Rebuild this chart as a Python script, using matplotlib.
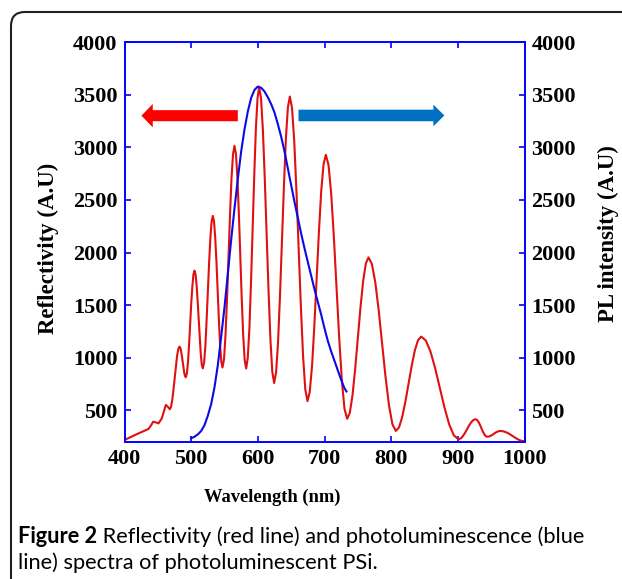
import matplotlib
matplotlib.use("Agg")
import matplotlib.pyplot as plt
from matplotlib.patches import FancyArrow, FancyBboxPatch
from matplotlib.transforms import IdentityTransform

# ---------------- data ----------------
wavelength_refl = [
    400, 409, 418, 427, 436, 440, 443, 447, 451, 456, 459, 462, 465, 468,
    469.8, 471.6, 473.4, 475.3, 477.1, 478.9, 480.7, 482.5,
    483.7, 484.9, 486.1, 487.3, 488.4, 489.6, 490.8, 492,
    493.6, 495.3, 496.9, 498.5, 500.1, 501.8, 503.4, 505,
    506.6, 508.1, 509.7, 511.3, 512.8, 514.4, 515.9, 517.5,
    519.4, 521.3, 523.1, 525, 526.9, 528.8, 530.6, 532.5,
    534.3, 536.1, 538, 539.8, 541.6, 543.4, 545.2, 547,
    549.3, 551.5, 553.8, 556, 558.3, 560.5, 562.8, 565,
    567.2, 569.4, 571.6, 573.8, 575.9, 578.1, 580.3, 582.5,
    584.9, 587.4, 589.8, 592.3, 594.7, 597.1, 599.6, 602,
    604.8, 607.6, 610.4, 613.3, 616.1, 618.9, 621.7, 624.5,
    627.4, 630.4, 633.3, 636.3, 639.2, 642.1, 645.1, 648,
    651.3, 654.6, 657.9, 661.3, 664.6, 667.9, 671.2, 674.5,
    677.9, 681.4, 684.8, 688.3, 691.7, 695.1, 698.6, 702,
    706, 710, 714, 718, 722, 726, 730, 734,
    738, 742, 746, 750, 754, 758, 762, 766,
    771.1, 776.3, 781.4, 786.5, 791.6, 796.8, 801.9, 807,
    811.8, 816.5, 821.3, 826, 830.8, 835.5, 840.3, 845,
    852, 859, 866, 873, 880, 887, 894, 901,
    904.2, 907.4, 910.6, 913.8, 916.9, 920.1, 923.3, 926.5,
    928.7, 930.9, 933.1, 935.3, 937.4, 939.6, 941.8, 944,
    946.5, 949, 951.5, 954, 956.5, 959, 961.5, 964,
    968.5, 973, 977.5, 982, 986.5, 991, 995.5, 1000]
reflectivity = [
    219, 246, 273, 298, 324, 360, 393, 386, 377, 425, 490, 552, 535, 511,
    534, 598, 695, 809, 922, 1019, 1083, 1106,
    1095, 1064, 1016, 961, 905, 858, 826, 815,
    854, 963, 1128, 1322, 1515, 1680, 1790, 1828,
    1793, 1693, 1541, 1364, 1187, 1036, 935, 900,
    955, 1111, 1347, 1624, 1901, 2137, 2293, 2348,
    2293, 2138, 1903, 1628, 1353, 1118, 963, 908,
    988, 1216, 1559, 1961, 2363, 2707, 2934, 3014,
    2934, 2705, 2360, 1956, 1552, 1207, 978, 898,
    1000, 1288, 1724, 2235, 2746, 3182, 3470, 3572,
    3465, 3161, 2703, 2166, 1629, 1171, 867, 760,
    863, 1157, 1601, 2121, 2641, 3085, 3379, 3482,
    3372, 3060, 2588, 2035, 1482, 1011, 698, 588,
    677, 930, 1311, 1758, 2205, 2586, 2839, 2928,
    2833, 2562, 2153, 1674, 1195, 786, 515, 420,
    478, 644, 894, 1187, 1480, 1730, 1896, 1954,
    1891, 1713, 1444, 1130, 815, 546, 368, 305,
    339, 436, 582, 753, 924, 1070, 1167, 1201,
    1164, 1059, 900, 714, 527, 368, 263, 226,
    233, 254, 285, 321, 357, 388, 409, 416,
    410, 392, 365, 333, 301, 274, 256, 250,
    252, 258, 267, 278, 289, 297, 303, 305,
    301, 291, 276, 257, 239, 222, 211, 208]

wavelength_pl = [500, 505, 510, 515, 520, 525, 530, 535, 540, 545, 550, 555,
                 560, 565, 570, 575, 580, 585, 590, 595, 600, 605, 610, 615,
                 620, 625, 630, 635, 640, 645, 650, 655, 660, 665, 670, 675,
                 680, 685, 690, 695, 700, 705, 710, 715, 720, 725, 730, 733]
pl_intensity = [235, 250, 272, 305, 360, 450, 560, 720, 930, 1200, 1480, 1800,
                2120, 2420, 2700, 2960, 3170, 3340, 3470, 3545, 3577, 3565, 3530, 3475,
                3410, 3330, 3220, 3100, 2960, 2800, 2640, 2480, 2330, 2180, 2040, 1910,
                1780, 1650, 1530, 1410, 1280, 1160, 1060, 970, 880, 790, 710, 680]

x_ticks = [400, 500, 600, 700, 800, 900, 1000]
y_ticks = [500, 1000, 1500, 2000, 2500, 3000, 3500, 4000]

x_label = "Wavelength (nm)"
y_label_left = "Reflectivity (A.U)"
y_label_right = "PL intensity (A.U)"
caption_bold = "Figure 2"
caption_line1 = " Reflectivity (red line) and photoluminescence (blue"
caption_line2 = "line) spectra of photoluminescent PSi."

# ---------------- styling ----------------
W, H = 622, 579
serif = ["Liberation Serif", "DejaVu Serif"]
axis_blue = "#0000FF"
red_line = "#E01010"
blue_line = "#0A0AE6"

fig = plt.figure(figsize=(W / 100, H / 100), dpi=100)
fig.patch.set_facecolor("white")

left_px, right_px, top_px, bottom_px = 124.5, 524.5, 42, 442
ax = fig.add_axes([left_px / W, 1 - bottom_px / H,
                   (right_px - left_px) / W, (bottom_px - top_px) / H])
ax2 = ax.twinx()

ax.plot(wavelength_refl, reflectivity, color=red_line, lw=1.5, zorder=3,
        solid_joinstyle="round")
ax2.plot(wavelength_pl, pl_intensity, color=blue_line, lw=1.5, zorder=3,
         solid_joinstyle="round")

for a in (ax, ax2):
    a.set_xlim(400, 1000)
    a.set_ylim(200, 4000)
    for s in a.spines.values():
        s.set_color(axis_blue)
        s.set_linewidth(1.2)

ax.set_xticks(x_ticks)
ax.set_xticklabels([str(v) for v in x_ticks], fontfamily=serif,
                   fontweight="bold", fontsize=16)
ax.set_yticks(y_ticks)
ax.set_yticklabels([str(v) for v in y_ticks], fontfamily=serif,
                   fontweight="bold", fontsize=16)
ax2.set_yticks(y_ticks)
ax2.set_yticklabels([str(v) for v in y_ticks], fontfamily=serif,
                    fontweight="bold", fontsize=16)

ax.tick_params(axis="x", direction="in", top=True, bottom=True, length=4.5,
               width=1.2, color=axis_blue, pad=5, labelcolor="black")
ax.tick_params(axis="y", direction="in", left=True, right=False, length=4.5,
               width=1.2, color=axis_blue, pad=5, labelcolor="black")
ax2.tick_params(axis="y", direction="in", right=True, left=False, length=4.5,
                width=1.2, color=axis_blue, pad=5, labelcolor="black")

# arrows
ax2.add_patch(FancyArrow(570, 3300, -144.6, 0, width=105,
                         head_width=222, head_length=17,
                         length_includes_head=True, color="#FF0000",
                         lw=0, zorder=4))
ax2.add_patch(FancyArrow(661, 3302, 218.8, 0, width=110,
                         head_width=206, head_length=16.5,
                         length_includes_head=True, color="#0070C0",
                         lw=0, zorder=4))

# axis labels
fig.text(272 / W, 1 - 497 / H, x_label, ha="center", va="center",
         fontfamily=serif, fontweight="bold", fontsize=13.3)
fig.text(48 / W, 1 - 248 / H, y_label_left, ha="center", va="center",
         rotation=90, fontfamily=serif, fontweight="bold", fontsize=16.5)
fig.text(608 / W, 1 - 234 / H, y_label_right, ha="center", va="center",
         rotation=90, fontfamily=serif, fontweight="bold", fontsize=16.5)

# frame with rounded corner
frame = FancyBboxPatch((11, -200), 800, H - 12 + 200,
                       boxstyle="round,pad=0,rounding_size=14",
                       transform=IdentityTransform(), fill=False,
                       edgecolor="#231F20", lw=1.5, zorder=0)
fig.add_artist(frame)

# caption
cap_font = ["Lato", "Open Sans", "DejaVu Sans"]
renderer = fig.canvas.get_renderer()
t_b = fig.text(18 / W, 1 - 543 / H, caption_bold, ha="left", va="baseline",
               fontfamily=cap_font, fontweight="bold", fontsize=14)
t_r = fig.text(0, 1 - 543 / H, caption_line1, ha="left", va="baseline",
               fontfamily=cap_font, fontsize=14)
t_2 = fig.text(18 / W, 1 - 569 / H, caption_line2, ha="left", va="baseline",
               fontfamily=cap_font, fontsize=14)
# fit line 1 to its width in the reference (18 -> 586 px)
wb = t_b.get_window_extent(renderer).width
wr = t_r.get_window_extent(renderer).width
scale = (586 - 18) / (wb + wr)
fs = 14 * scale
for t in (t_b, t_r, t_2):
    t.set_fontsize(fs)
wb = t_b.get_window_extent(renderer).width
t_r.set_x((18 + wb) / W)

fig.savefig("out.png", dpi=100)
